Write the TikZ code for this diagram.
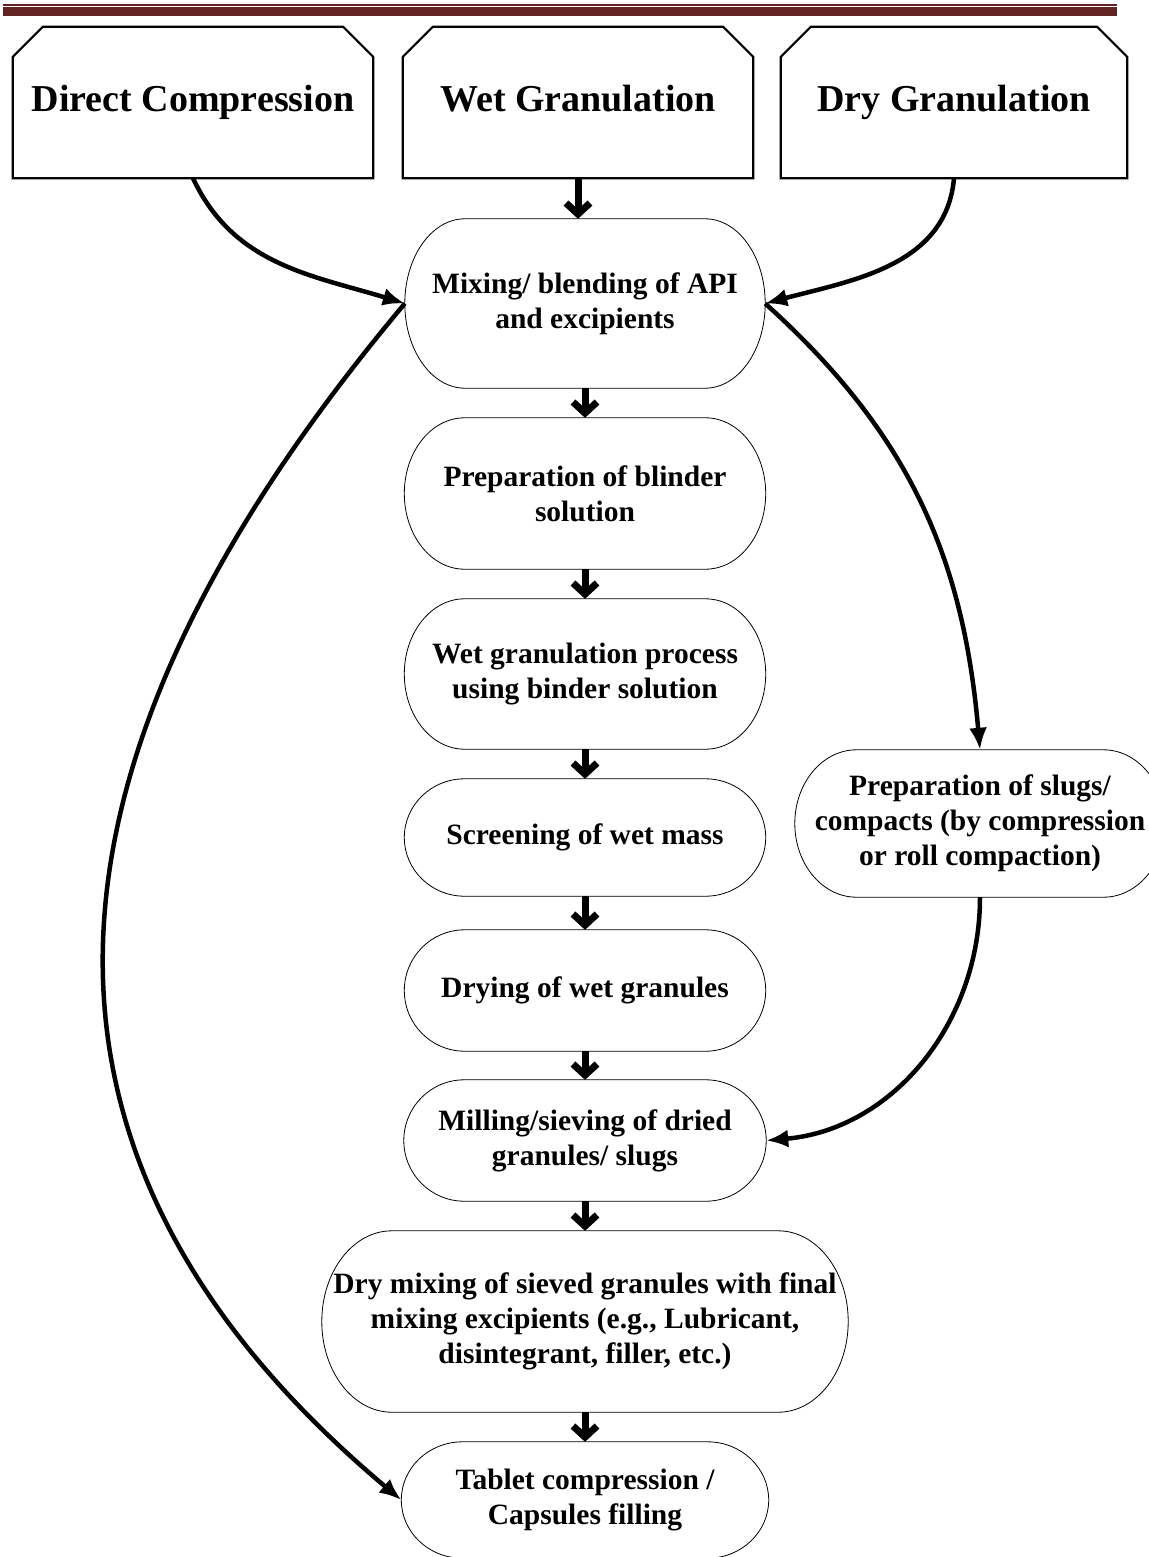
\documentclass[tikz,border=0pt]{standalone}
\usepackage{fontspec}
\setmainfont{Liberation Serif}
\usetikzlibrary{arrows.meta,calc}
\definecolor{headred}{HTML}{622423}

\begin{document}
\begin{tikzpicture}[x=1pt,y=-1pt,
		route/.style={inner sep=0pt,align=center,text height=26pt,text depth=7pt,font=\fontsize{38}{45}\selectfont\bfseries},
		stage/.style={inner sep=0pt,align=center,font=\fontsize{29.5}{35}\selectfont\bfseries},
		flowdown/.style={line width=7pt,-{Straight Barb[length=11pt,width=24pt]}},
		sidelink/.style={line width=4.5pt,-{Latex[length=22pt,width=18pt]}}]
		\useasboundingbox (0,0) rectangle (1148,1557);
		
		% header rule
		\fill[headred] (3,4) rectangle (1117,6);
		\fill[headred] (3,7.5) rectangle (1117,16);
		
		\node[route,minimum width=360pt,minimum height=151pt] (direct) at (193,102.5) {Direct Compression};
		\node[route,minimum width=350pt,minimum height=151pt] (wet) at (578,102.5) {Wet Granulation};
		\node[route,minimum width=346pt,minimum height=151pt] (drygr) at (954,102.5) {Dry Granulation};
		\foreach \k in {direct,wet,drygr}
			\draw[line width=2.2pt] (\k.south west) -- ([yshift=-30pt]\k.north west) -- ([xshift=30pt]\k.north west)
				-- ([xshift=-30pt]\k.north east) -- ([yshift=-30pt]\k.north east) -- (\k.south east) -- cycle;
		
		\node[stage,minimum width=360pt,minimum height=169pt] (mix) at (585,303.5) {Mixing/ blending of API\\and excipients};
		\node[stage,minimum width=361pt,minimum height=151pt] (binder) at (585,493.5) {Preparation of blinder\\solution};
		\node[stage,minimum width=361pt,minimum height=150pt] (wetproc) at (585,674) {Wet granulation process\\using binder solution};
		\node[stage,minimum width=361pt,minimum height=117pt] (screen) at (585,837.5) {Screening of wet mass};
		\node[stage,minimum width=361pt,minimum height=121pt] (drying) at (585,990.5) {Drying of wet granules};
		\node[stage,minimum width=362pt,minimum height=121pt] (mill) at (585,1140.5) {Milling/sieving of dried\\granules/ slugs};
		\node[stage,minimum width=526pt,minimum height=181pt] (final) at (585,1321.5) {Dry mixing of sieved granules with final\\mixing excipients (e.g., Lubricant,\\disintegrant, filler, etc.)};
		\node[stage,minimum width=367pt,minimum height=116pt] (tablet) at (585,1500) {Tablet compression /\\Capsules filling};
		\node[stage,minimum width=370pt,minimum height=147pt] (slugs) at (980,823.5) {Preparation of slugs/\\compacts (by compression\\or roll compaction)};
		
		% terminator outlines
		\foreach \k in {mix,binder,wetproc,screen,drying,mill,final,tablet,slugs}
			\draw[line width=0.8pt] let \p1=(\k.north west), \p2=(\k.south east),
				\n1={min((\x2-\x1)/6,70pt)}, \n2={(\y1-\y2)/2} in
				(\x1+\n1,\y1) -- (\x2-\n1,\y1) arc[start angle=90,end angle=-90,x radius=\n1,y radius=\n2]
				-- (\x1+\n1,\y2) arc[start angle=270,end angle=90,x radius=\n1,y radius=\n2] -- cycle;
		
		\draw[flowdown] (wet.south) -- (wet.south |- mix.north);
		\foreach \a/\b in {mix/binder,binder/wetproc,wetproc/screen,screen/drying,drying/mill,mill/final,final/tablet}
			\draw[flowdown] (\a) -- (\b);
		
		\draw[sidelink] (direct.south) to[out=-65,in=163] (mix.west);
		\draw[sidelink] (drygr.south) to[out=-95,in=15] (mix.east);
		\draw[sidelink] (mix.east) to[out=-42,in=95] (slugs.north);
		\draw[sidelink] (mix.west) .. controls +(230:563pt) and +(140:563pt) .. (tablet.west);
		\draw[sidelink] (slugs.south) to[out=-90,in=5] (mill.east);
	\end{tikzpicture}
\end{document}
